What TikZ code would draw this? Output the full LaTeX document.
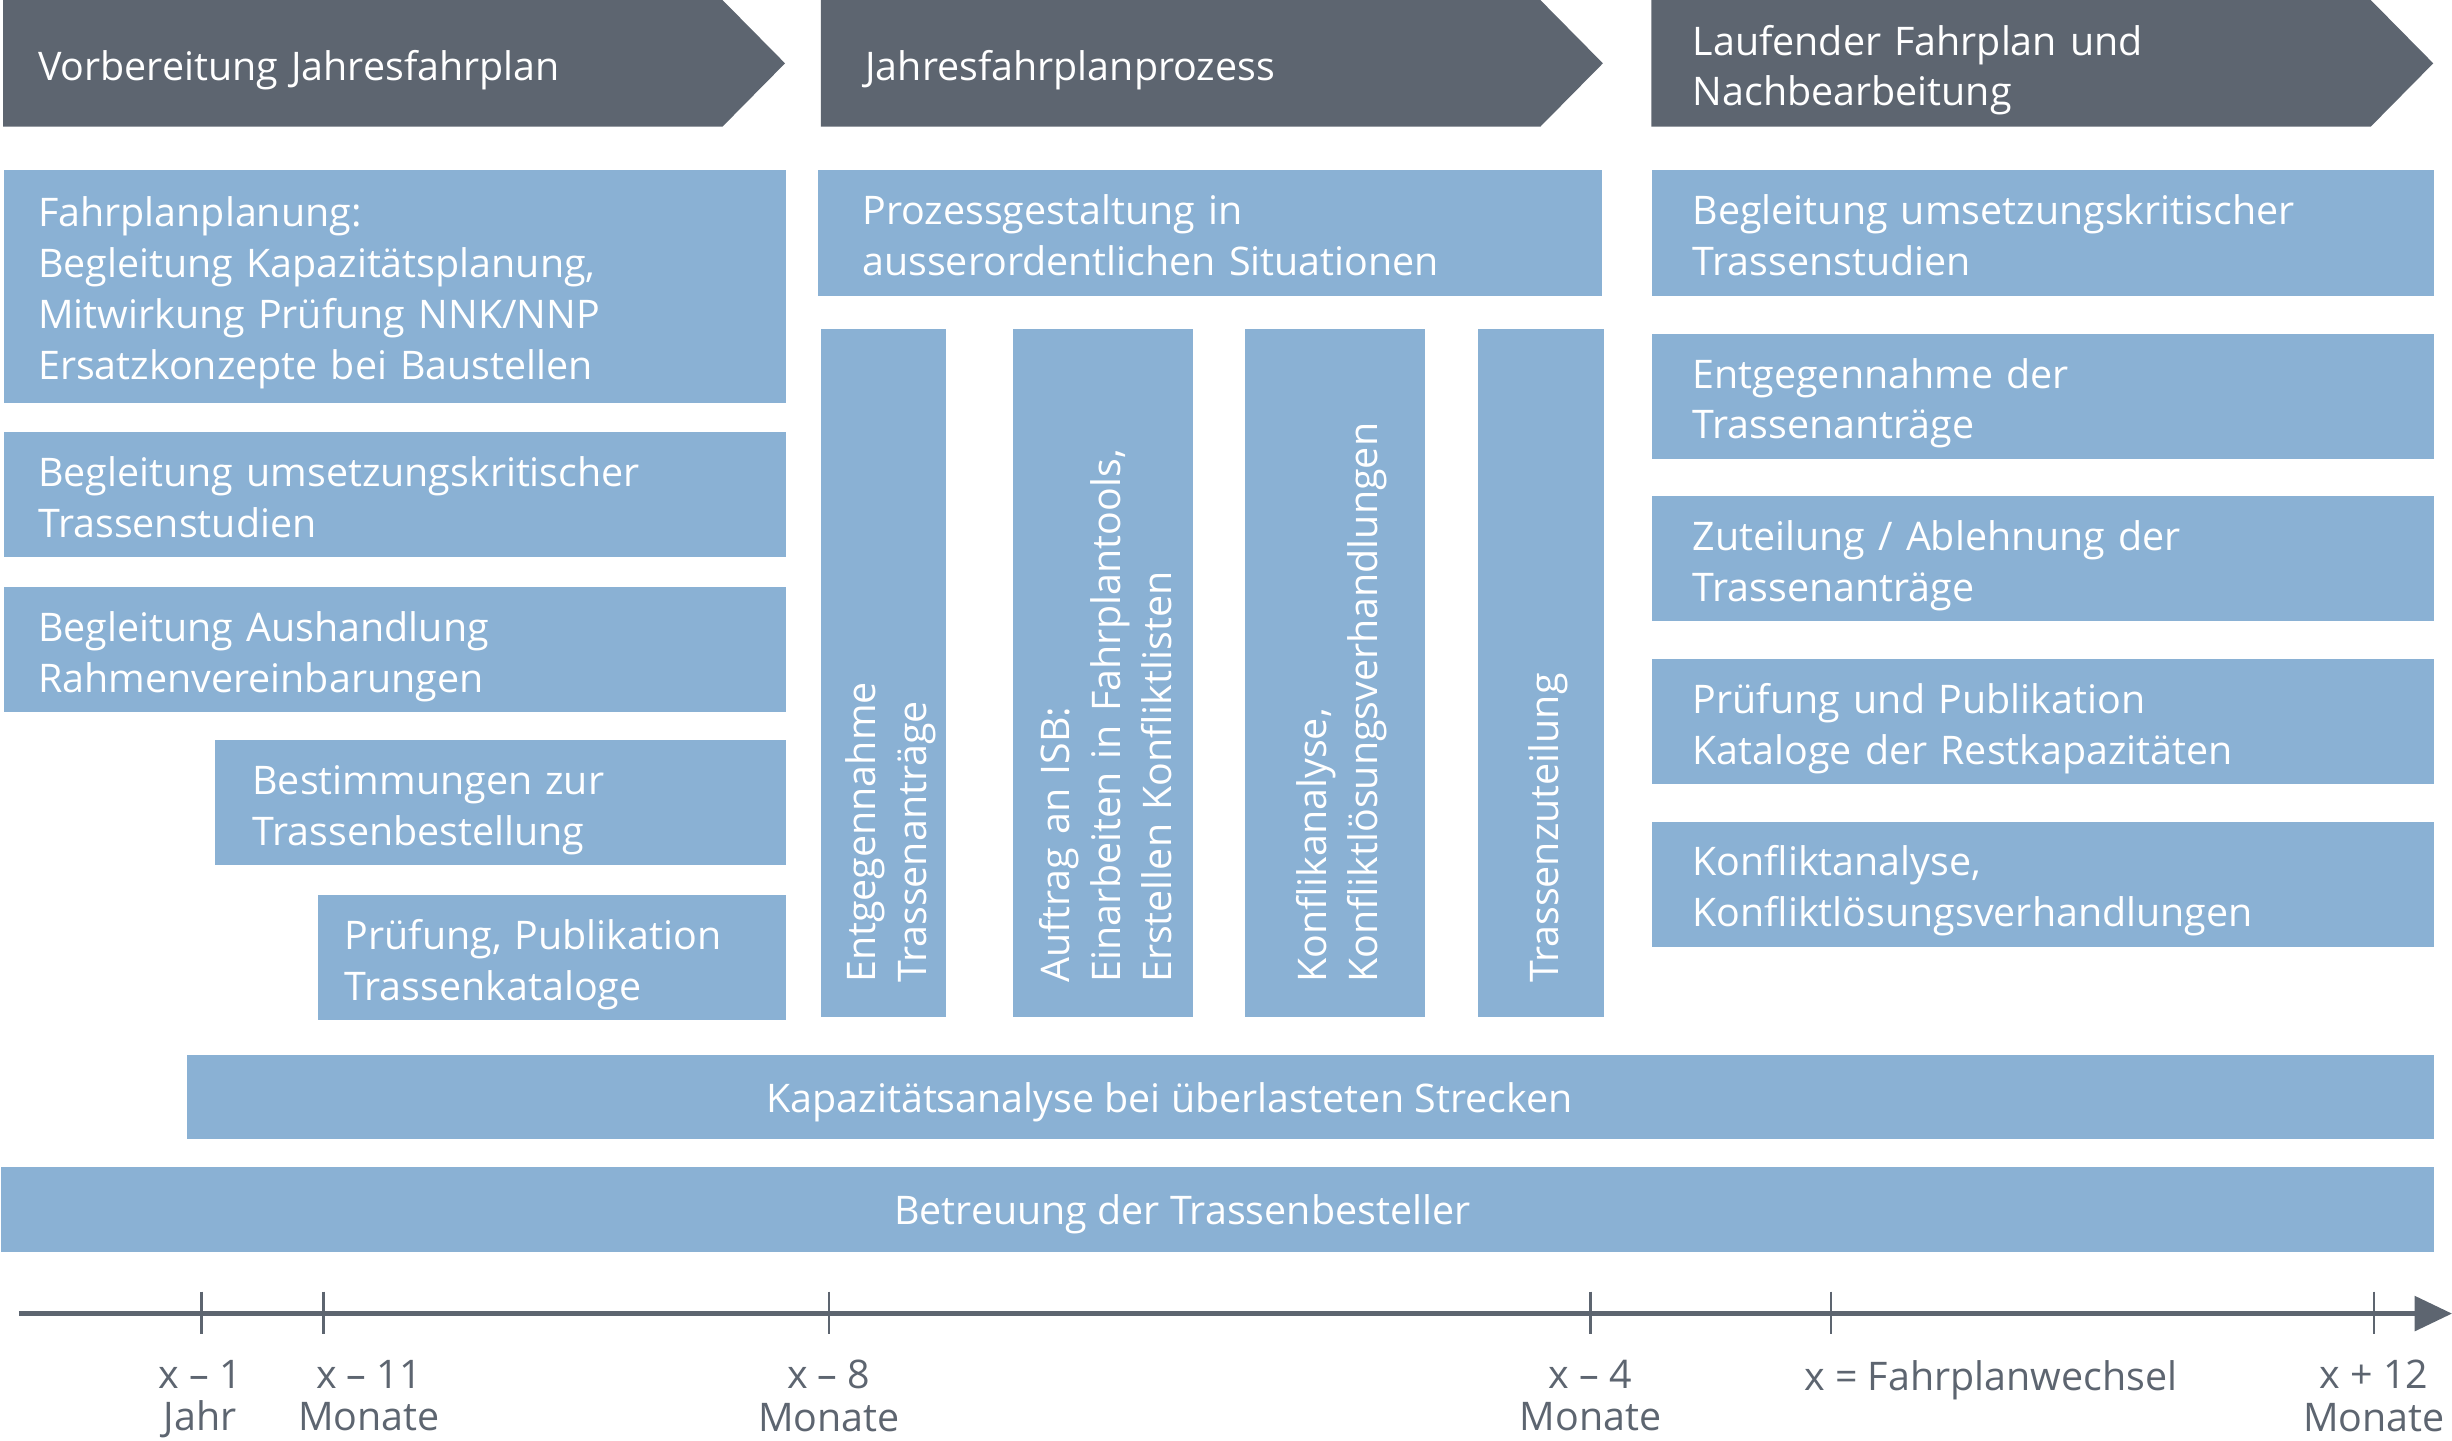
\documentclass[tikz,border=0pt]{standalone}
\usepackage{fontspec}
\setmainfont{Open Sans}
\usepackage{tikz}
\usetikzlibrary{arrows.meta}
\definecolor{phasegray}{HTML}{5D6570}
\definecolor{taskblue}{HTML}{8AB1D4}

\tikzset{
  boxfont/.style={font=\fontsize{12.6pt}{16.25pt}\selectfont},
  padtext/.style={execute at begin node={\rule{0pt}{14pt}},
    execute at end node={\rule[-3pt]{0pt}{3pt}}},
  task/.style={boxfont,padtext,fill=taskblue,text=white,anchor=north west,align=left,
    inner xsep=11pt,inner ysep=0pt},
  vtask/.style={boxfont,padtext,fill=taskblue,text=white,rotate=90,align=left,
    inner xsep=11pt,inner ysep=0pt,minimum width=220pt,text width=198pt},
  phase/.style={fill=phasegray},
  phasetext/.style={boxfont,padtext,text=white,anchor=west,align=left,inner sep=0pt,
    text width=220pt},
  bartext/.style={boxfont,text=white,inner sep=0pt,anchor=base},
  axisline/.style={draw=phasegray,line width=1.6pt,-{Triangle[length=12pt,width=11pt]}},
  tickline/.style={draw=phasegray,line width=0.8pt},
  ticklabel/.style={font=\fontsize{12.6pt}{13.5pt}\selectfont,text=phasegray,
    align=center,anchor=north,inner sep=0pt}
}

\begin{document}
\begin{tikzpicture}[x=0.5pt,y=-0.5pt]
\useasboundingbox (0,0) rectangle (1568,920.9);

% phases
\foreach \x/\s/\name/\txt in {2/22/ph1/{Vorbereitung Jahresfahrplan},
    525/28/ph2/{Jahresfahrplanprozess},
    1056/26/ph3/{Laufender Fahrplan und\\Nachbearbeitung}}{
  \fill[phase] (\x,0) -- (\x+460,0) -- (\x+500,40.5) -- (\x+460,81) -- (\x,81) -- cycle;
  \node[phasetext] (\name) at (\x+\s,40.5) {\txt};
}

% left column
\node[task,minimum width=250pt,minimum height=74.5pt,text width=228pt] (fplan) at (2,108)
  {Fahrplanplanung:\\Begleitung Kapazitätsplanung,\\Mitwirkung Prüfung NNK/NNP\\Ersatzkonzepte bei Baustellen};
\node[task,minimum width=250pt,minimum height=40pt,text width=228pt] (studien) at (2,276)
  {Begleitung umsetzungskritischer\\Trassenstudien};
\node[task,minimum width=250pt,minimum height=40pt,text width=228pt] (rahmen) at (2,375)
  {Begleitung Aushandlung\\Rahmenvereinbarungen};
\node[task,minimum width=182.5pt,minimum height=40pt,text width=158.5pt,inner xsep=12pt] (bestimm) at (137,473)
  {Bestimmungen zur\\Trassenbestellung};
\node[task,minimum width=149.5pt,minimum height=40pt,text width=132.5pt,inner xsep=8.5pt] (katalog) at (203,572)
  {Prüfung, Publikation\\Trassenkataloge};

% middle column
\node[task,minimum width=250.5pt,minimum height=40.5pt,text width=222.5pt,inner xsep=14pt] (prozess) at (523,108)
  {Prozessgestaltung in\\ausserordentlichen Situationen};
\node[vtask,minimum height=40pt] (eingang) at (565,430.5)
  {Entgegennahme\\Trassenanträge};
\node[vtask,minimum height=57.5pt] (isb) at (705.5,430.5)
  {Auftrag an ISB:\\Einarbeiten in Fahrplantools,\\Erstellen Konfliktlisten};
\node[vtask,minimum height=57.5pt] (konflikt) at (853.5,430.5)
  {Konflikanalyse,\\Konfliktlösungsverhandlungen};
\node[vtask,minimum height=40.5pt] (zuteilung) at (985.5,430.5)
  {Trassenzuteilung};

% right column
\node[task,minimum width=250pt,minimum height=40.5pt,text width=224pt,inner xsep=13pt] (rstudien) at (1056,108)
  {Begleitung umsetzungskritischer\\Trassenstudien};
\node[task,minimum width=250pt,minimum height=40pt,text width=224pt,inner xsep=13pt] (rantrag) at (1056,213)
  {Entgegennahme der\\Trassenanträge};
\node[task,minimum width=250pt,minimum height=40pt,text width=224pt,inner xsep=13pt] (rzuteil) at (1056,317)
  {Zuteilung / Ablehnung der\\Trassenanträge};
\node[task,minimum width=250pt,minimum height=40pt,text width=224pt,inner xsep=13pt] (rrest) at (1056,421)
  {Prüfung und Publikation\\Kataloge der Restkapazitäten};
\node[task,minimum width=250pt,minimum height=40pt,text width=224pt,inner xsep=13pt] (rkonflikt) at (1056,525)
  {Konfliktanalyse,\\Konfliktlösungsverhandlungen};

% bars
\node[task,minimum width=718.5pt,minimum height=27pt,padtext/.style={}] (kap) at (119,674) {};
\node[bartext] (kaptext) at (748,711.5) {Kapazitätsanalyse bei überlasteten Strecken};
\node[task,minimum width=778pt,minimum height=27pt] (betr) at (0,746) {};
\node[bartext] (betrtext) at (756,783) {Betreuung der Trassenbesteller};

% time axis
\coordinate (axstart) at (12,840);
\coordinate (axend) at (1568,840);
\draw[axisline] (axstart) -- (axend);
\foreach \t in {129,207,530,1017,1171,1518}
  \draw[tickline] (\t,826) -- (\t,853);

\node[ticklabel] (t1) at (128,869.5) {x – 1\\Jahr};
\node[ticklabel] (t2) at (236,869.5) {x – 11\\Monate};
\node[ticklabel] (t3) at (530,869.5) {x – 8\\Monate};
\node[ticklabel] (t4) at (1017,869.5) {x – 4\\Monate};
\node[ticklabel] (t5) at (1273,869.5) {x = Fahrplanwechsel};
\node[ticklabel] (t6) at (1518,869.5) {x + 12\\Monate};

\end{tikzpicture}
\end{document}
